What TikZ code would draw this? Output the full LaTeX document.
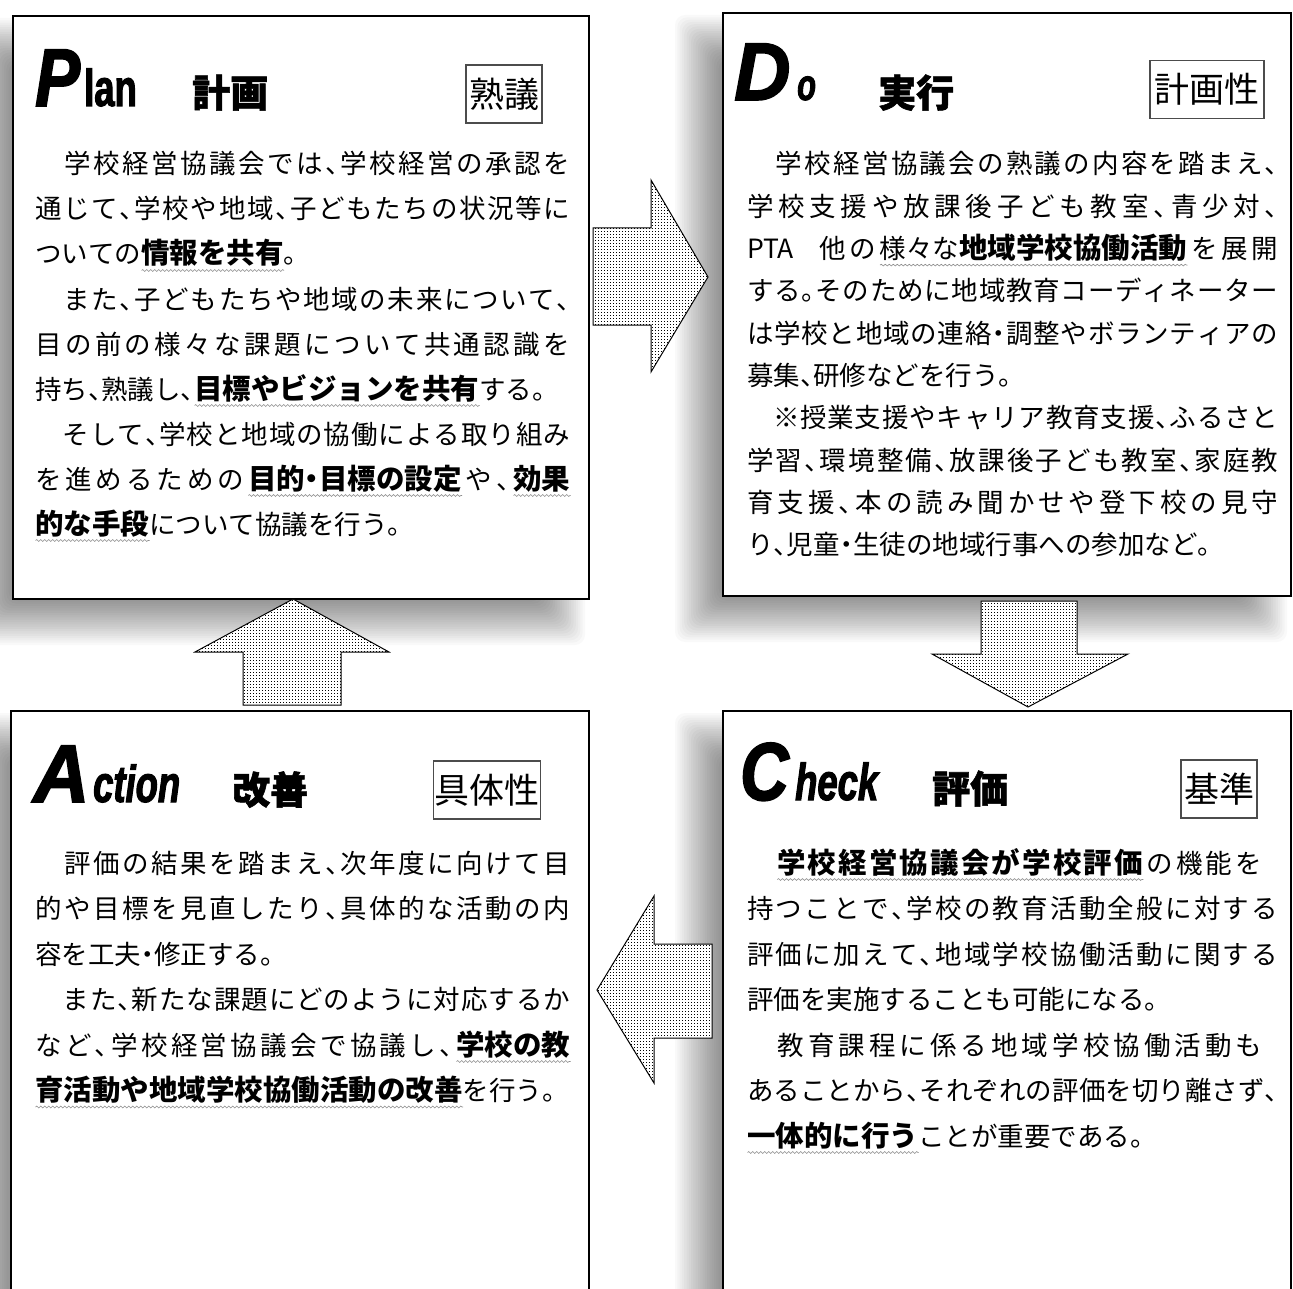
\documentclass[tikz,border=0pt]{standalone}
\usepackage{fontspec}
\usetikzlibrary{patterns,decorations.pathmorphing}
\newfontfamily\jp[RawFeature=+halt]{Noto Sans CJK JP}
\newfontfamily\jphead[FakeBold=1.5]{Noto Sans CJK JP}
\newfontfamily\capfont[FakeStretch=0.82,FakeBold=2]{Liberation Sans}
\newfontfamily\capwide[FakeStretch=0.95,FakeBold=2]{Liberation Sans}
\newfontfamily\lowfont[FakeStretch=0.7,FakeBold=2]{Liberation Sans}
% stretchable glue between CJK characters (for justified lines)
\XeTeXinterchartokenstate=1
\newXeTeXintercharclass\cjkcls
\newcount\cjkc
\def\setcjkrange#1#2{\cjkc=#1\relax\loop\XeTeXcharclass\cjkc=\cjkcls\relax\advance\cjkc by 1\relax\ifnum\cjkc<#2\relax\repeat}
\setcjkrange{"3000}{"3100}
\setcjkrange{"4E00}{"A000}
\setcjkrange{"FF00}{"FFF0}
\XeTeXinterchartoks\cjkcls\cjkcls={\hskip0pt plus 1pt\relax}
\newcommand\gl{\hskip0pt plus 1pt\relax}
% wavy underline
\newsavebox\wvbox
\newdimen\wvw
\newcommand\wvraw[2][]{\sbox\wvbox{\ifx\relax#1\relax #2\else\makebox[#1][s]{#2}\fi}\wvw=\wd\wvbox\rlap{\raisebox{-6.5pt}[0pt][0pt]{\tikz[x=1pt,y=1pt,baseline=0pt]\draw[black!45, line width=0.6pt, decorate, decoration={snake, segment length=4pt, amplitude=0.9pt}] (0,0) -- (\the\wvw,0);}}\usebox\wvbox}
\newcommand\bsz{\bfseries\fontsize{28.5}{30}\selectfont}
\newcommand\wv[2][]{\wvraw[#1]{\bsz #2}}
% dot pattern
\pgfdeclarepatternformonly{mydots}{\pgfqpoint{-0.1pt}{-0.1pt}}{\pgfqpoint{3.1pt}{3.1pt}}{\pgfqpoint{3pt}{3pt}}{\pgfpathrectangle{\pgfqpoint{0.6pt}{0.6pt}}{\pgfqpoint{1.8pt}{1.8pt}}\pgfusepath{fill}}
\newcommand\jl[4]{\node[txt] (#1) at (#2) {\makebox[#3pt][s]{#4}};}
\newcommand\jn[3]{\node[txt] (#1) at (#2) {#3};}
\begin{document}
\begin{tikzpicture}[x=1pt,y=-1pt,
  panel/.style={draw=black, line width=2pt, fill=white, inner sep=0pt, anchor=north west},
  lbl/.style={draw=black!70, line width=1.2pt, fill=white, inner xsep=1pt, inner ysep=0pt, minimum height=58pt, font=\jp\fontsize{35}{35}\selectfont},
  bigl/.style={anchor=base west, inner sep=0pt, font=\capfont\bfseries\itshape\fontsize{82}{82}\selectfont},
  bigw/.style={anchor=base west, inner sep=0pt, font=\capwide\bfseries\itshape\fontsize{82}{82}\selectfont},
  lowl/.style={anchor=base west, inner sep=0pt, font=\lowfont\bfseries\itshape\fontsize{52}{52}\selectfont},
  jh/.style={anchor=base west, inner sep=0pt, font=\jphead\bfseries\fontsize{38}{38}\selectfont},
  txt/.style={anchor=base west, inner sep=0pt, font=\jp\fontsize{26.5}{30}\selectfont},
  blockarrow/.style={preaction={fill=white}, pattern=mydots, draw=black, line width=1pt, line join=miter}]
\path[use as bounding box] (0,0) rectangle (1293,1289);
\clip (0,0) rectangle (1293,1289);
\fill[white] (0,0) rectangle (1293,1289);
% soft shadows
\foreach \a/\b/\c/\d in {-13/40/563/623, 697/37/1265/620, -15/735/563/1340, 697/735/1265/1340}{
  \foreach \k in {0,...,19}{
    \pgfmathsetmacro\e{22-2.3*\k}
    \fill[black, fill opacity=0.025, rounded corners=10pt] ({\a-(\e)},{\b-(\e)}) rectangle ({\c+(\e)},{\d+(\e)});
  }
}
% panels
\node[panel, minimum width=576pt, minimum height=583pt] (plan) at (12,15) {};
\node[panel, minimum width=568pt, minimum height=583pt] (do) at (722,12) {};
\node[panel, minimum width=578pt, minimum height=700pt] (act) at (10,710) {};
\node[panel, minimum width=568pt, minimum height=700pt] (chk) at (722,710) {};
% block arrows
\draw[blockarrow] (593,228) -- (651,228) -- (651,180) -- (708,277) -- (651,372) -- (651,325) -- (593,325) -- cycle;
\draw[blockarrow] (981,601) -- (1077,601) -- (1077,654) -- (1128,654) -- (1028,707) -- (932,654) -- (981,654) -- cycle;
\draw[blockarrow] (293,599) -- (389,652) -- (341,652) -- (341,705) -- (243,705) -- (243,652) -- (195,652) -- cycle;
\draw[blockarrow] (597,990) -- (654,896) -- (654,944) -- (712,944) -- (712,1038) -- (654,1038) -- (654,1083) -- cycle;
% headings
\node[bigl] (hp1) at (35,106) {P};
\node[lowl, font=\lowfont\bfseries\fontsize{52}{52}\selectfont] (hp2) at (84,106) {lan};
\node[jh] (hp3) at (192,107) {計画};
\node[lbl, minimum width=76pt] (hp4) at (504,94) {熟議};
\node[bigw] (hd1) at (734,100) {D};
\node[lowl, font=\lowfont\bfseries\itshape\fontsize{44}{44}\selectfont] (hd2) at (797,100) {o};
\node[jh] (hd3) at (878,107) {実行};
\node[lbl, minimum width=114pt] (hd4) at (1207,89.5) {計画性};
\node[bigw] (ha1) at (33,802) {A};
\node[lowl] (ha2) at (93,802) {ction};
\node[jh] (ha3) at (232,804) {改善};
\node[lbl, minimum width=102pt] (ha4) at (487,790) {具体性};
\node[bigl] (hc1) at (740,800) {C};
\node[lowl] (hc2) at (795,800) {heck};
\node[jh] (hc3) at (932,803) {評価};
\node[lbl, minimum width=76pt] (hc4) at (1219,789) {基準};
% Plan text
\jl{p1}{35,174}{535}{　学校経営協議会では、学校経営の承認を}
\jl{p2}{35,219}{535}{通じて、学校や地域、子どもたちの状況等に}
\jn{p3}{35,264}{ついての\wv{情報を共有}。}
\jl{p4}{35,309}{535}{　また、子どもたちや地域の未来について、}
\jl{p5}{35,354}{535}{目の前の様々な課題について共通認識を}
\jn{p6}{35,399}{持ち、熟議し、\wv{目標やビジョンを共有}する。}
\jl{p7}{35,444}{535}{　そして、学校と地域の協働による取り組み}
\jl{p8}{35,489}{535}{を進めるための\gl\wv{目的・目標の設定}\gl や、\gl\wv{効果}}
\jn{p9}{35,534}{\wv{的な手段}について協議を行う。}
% Do text
\jl{d1}{747,174}{531}{　学校経営協議会の熟議の内容を踏まえ、}
\jl{d2}{747,216.3}{531}{学校支援や放課後子ども教室、青少対、}
\jl{d3}{747,258.6}{531}{PTA\gl\ \gl 他の\gl\wvraw{様々な\gl{\bsz 地域学校協働活動}}\gl を展開}
\jl{d4}{747,300.9}{531}{する。そのために地域教育コーディネーター}
\jl{d5}{747,343.2}{531}{は学校と地域の連絡・調整やボランティアの}
\jn{d6}{747,385.5}{募集、研修などを行う。}
\jl{d7}{747,427.8}{531}{　※授業支援やキャリア教育支援、ふるさと}
\jl{d8}{747,470.1}{531}{学習、環境整備、放課後子ども教室、家庭教}
\jl{d9}{747,512.4}{531}{育支援、本の読み聞かせや登下校の見守}
\jn{d10}{747,554.7}{り、児童・生徒の地域行事への参加など。}
% Check text
\jl{c1}{747,873}{515}{　\gl\wv[366pt]{学校経営協議会が学校評価}\gl の機能を}
\jl{c2}{747,918.5}{531}{持つことで、学校の教育活動全般に対する}
\jl{c3}{747,964}{531}{評価に加えて、地域学校協働活動に関する}
\jn{c4}{747,1009.5}{評価を実施することも可能になる。}
\jl{c5}{747,1055}{515}{　教育課程に係る地域学校協働活動も}
\jl{c6}{747,1100.5}{531}{あることから、それぞれの評価を切り離さず、}
\jn{c7}{747,1146}{\wv{一体的に行う}ことが重要である。}
% Action text
\jl{a1}{35,873}{535}{　評価の結果を踏まえ、次年度に向けて目}
\jl{a2}{35,918.5}{535}{的や目標を見直したり、具体的な活動の内}
\jn{a3}{35,964}{容を工夫・修正する。}
\jl{a4}{35,1009.5}{535}{　また、新たな課題にどのように対応するか}
\jl{a5}{35,1055}{535}{など、学校経営協議会で協議し、\gl\wv{学校の教}}
\jn{a6}{35,1100.5}{\wv{育活動や地域学校協働活動の改善}を行う。}
\end{tikzpicture}
\end{document}
